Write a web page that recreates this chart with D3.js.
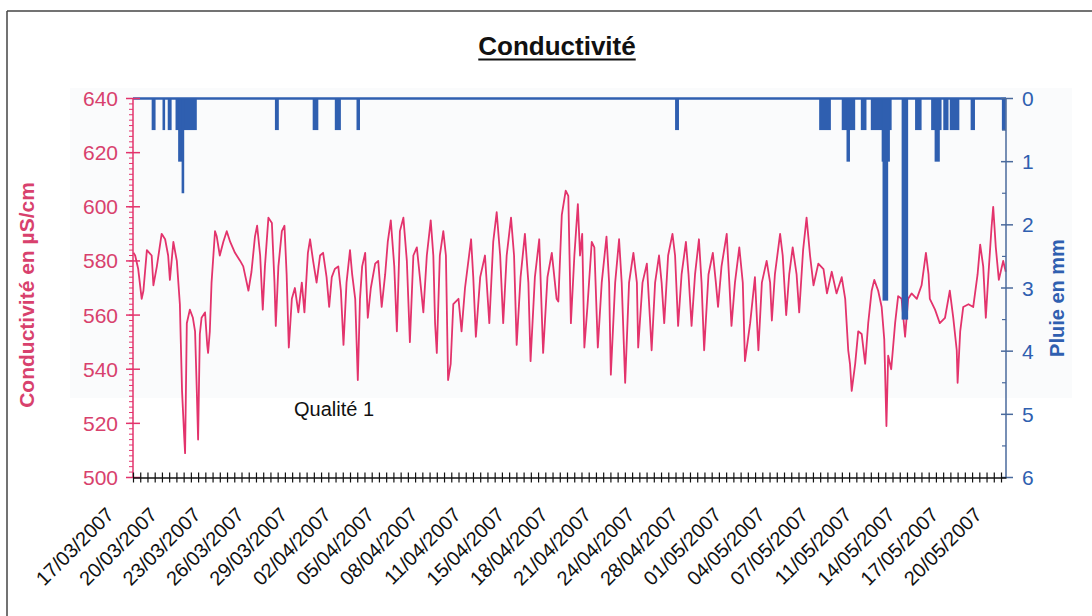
<!DOCTYPE html>
<html><head><meta charset="utf-8">
<script src="https://cdn.jsdelivr.net/npm/d3@7"></script>
<style>html,body{margin:0;padding:0;background:#fff;}svg{display:block;font-family:"Liberation Sans",Arial,sans-serif;}</style>
</head><body><svg id="c" width="1092" height="616"></svg>
<script>
// ---- data ----
const dateLabels = ["17/03/2007","20/03/2007","23/03/2007","26/03/2007","29/03/2007","02/04/2007","05/04/2007","08/04/2007","11/04/2007","15/04/2007","18/04/2007","21/04/2007","24/04/2007","28/04/2007","01/05/2007","04/05/2007","07/05/2007","11/05/2007","14/05/2007","17/05/2007","20/05/2007"];
const condTicks = [500,520,540,560,580,600,620,640];
const rainTicks = [0,1,2,3,4,5,6];
// position along the axis, in date-label steps
const condIdx = [0.01,0.05,0.12,0.20,0.24,0.32,0.43,0.47,0.55,0.66,0.74,0.81,0.85,0.93,1.01,1.08,1.10,1.13,1.18,1.20,1.24,1.31,1.38,1.43,1.47,1.50,1.54,1.58,1.66,1.71,1.73,1.77,1.81,1.89,1.93,2.00,2.08,2.16,2.24,2.35,2.47,2.54,2.66,2.73,2.81,2.86,2.93,2.99,3.04,3.12,
3.20,3.26,3.29,3.35,3.43,3.49,3.54,3.59,3.66,3.73,3.81,3.89,3.95,4.03,4.08,4.15,4.23,4.31,4.38,4.46,4.52,4.58,4.65,4.73,4.79,4.85,4.92,5.00,5.05,5.12,5.18,5.23,5.28,5.35,5.41,5.48,5.58,5.65,5.73,5.81,5.87,5.94,6.02,6.08,6.15,6.23,6.31,6.38,
6.46,6.54,6.61,6.69,6.77,6.86,6.92,6.96,7.00,7.07,7.15,7.21,7.26,7.32,7.38,7.50,7.57,7.65,7.79,7.84,7.90,8.00,8.11,8.21,8.30,8.38,8.46,8.53,8.61,8.71,8.78,8.84,8.93,9.03,9.11,9.16,9.26,9.36,9.45,9.55,9.65,9.76,
9.80,9.88,9.97,10.03,10.09,10.17,10.25,10.30,10.35,10.40,10.47,10.57,10.63,10.71,10.80,10.91,10.97,11.01,11.11,11.20,11.26,11.34,11.43,11.53,11.61,11.64,11.74,11.84,11.91,11.95,12.03,12.12,12.18,12.24,12.33,12.43,12.49,12.56,12.64,12.74,12.80,12.87,12.95,13.04,13.10,13.16,
13.26,13.36,13.43,13.48,13.56,13.68,13.74,13.79,13.87,13.97,14.05,14.10,14.22,14.33,14.41,14.49,14.60,14.68,14.72,14.79,14.91,14.97,15.05,15.12,15.20,15.29,15.35,15.44,15.52,15.60,15.68,15.79,15.91,15.99,16.10,16.21,16.33,16.41,16.48,16.52,
16.56,16.64,16.71,16.79,16.87,16.94,17.02,17.08,17.17,17.25,17.31,17.34,17.36,17.40,17.47,17.56,17.63,17.71,17.79,17.86,17.94,18.06,18.17,18.27,18.33,18.36,18.48,18.59,18.71,18.82,18.90,18.98,19.00,19.06,19.13,19.25,19.36,19.46,19.52,19.59,19.65,19.71,19.78,19.82,19.88,19.95,20.05,20.11];
const condVal = [583,582,577,566,569,584,582,571,578,590,588,582,573,587,580,564,551,532,515,509,557,562,559,554,532,514,553,559,561,549,546,554,572,591,589,582,587,591,587,583,580,578,569,576,589,593,582,562,578,596,
594,572,556,578,591,593,575,548,566,570,561,572,561,583,588,580,572,582,583,574,563,574,577,578,569,549,572,584,575,566,536,566,578,583,559,570,579,580,563,575,587,595,578,554,591,596,580,550,
582,585,574,561,582,595,582,557,546,582,591,582,536,542,564,566,554,570,588,574,552,574,582,557,587,598,582,557,582,596,582,549,574,590,572,543,574,588,546,574,583,566,
565,597,606,604,557,582,601,582,590,548,563,587,585,548,572,589,572,538,572,588,572,535,572,583,572,548,572,579,559,547,572,582,572,557,582,590,582,556,575,587,575,556,575,588,572,547,
575,583,572,563,578,590,572,556,572,585,572,543,557,574,547,572,580,572,558,575,590,582,560,575,585,575,561,584,596,582,571,579,577,568,576,568,574,566,547,542,
532,542,554,553,542,557,569,573,569,563,551,532,519,545,540,557,567,566,552,566,568,566,571,583,575,566,562,557,559,569,559,547,535,554,563,564,563,575,586,578,559,575,592,600,585,573,580,576];
// rain (mm): start / end position in date-label steps
const rainFrom = [0.43,0.68,0.80,0.98,1.04,1.12,3.27,4.14,4.65,5.15,12.49,15.81,16.33,16.44,16.77,17.00,17.25,17.27,17.71,18.02,18.39,18.47,18.67,18.82,19.30,20.02];
const rainTo   = [0.52,0.74,0.89,1.47,1.16,1.18,3.36,4.27,4.79,5.23,12.58,16.08,16.64,16.52,16.90,17.48,17.44,17.40,17.86,18.17,18.63,18.59,18.79,19.04,19.40,20.11];
const rainMm   = [0.5,0.5,0.5,0.5,1.0,1.5,0.5,0.5,0.5,0.5,0.5,0.5,0.5,1.0,0.5,0.5,1.0,3.2,3.5,0.5,0.5,1.0,0.5,0.5,0.5,0.5];

// ---- drawing ----
const pink = "#e3336c", pinkTxt = "#d8416d", blue = "#2f5fb0", blueAxis = "#4a6a9c";
const svg = d3.select("#c");
const x = d3.scaleLinear().domain([0, 20.115]).range([133, 1006]);
const yL = d3.scaleLinear().domain([500, 640]).range([477.5, 98.5]);
const yR = d3.scaleLinear().domain([0, 6]).range([98.5, 477.5]);

// frame
svg.append("line").attr("x1",7).attr("x2",1092).attr("y1",11).attr("y2",11).attr("stroke","#444").attr("stroke-width",1.5);
svg.append("line").attr("x1",7).attr("x2",7).attr("y1",11).attr("y2",616).attr("stroke","#444").attr("stroke-width",1.5);
// faint band
svg.append("rect").attr("x",70).attr("y",88).attr("width",1002).attr("height",310).attr("fill","#fafbfc");

// title
const title = svg.append("text").attr("x",557).attr("y",55).attr("text-anchor","middle")
  .attr("font-size",26).attr("font-weight","bold").attr("fill","#111").text("Conductivité");
const tw = title.node().getComputedTextLength();
svg.append("line").attr("x1",557-tw/2).attr("x2",557+tw/2).attr("y1",59.5).attr("y2",59.5).attr("stroke","#111").attr("stroke-width",2);

// conductivity line
const condData = condIdx.map((d,i)=>({i:d, v:condVal[i]}));
svg.append("path").datum(condData)
  .attr("d", d3.line().x(d=>x(d.i)).y(d=>yL(d.v)))
  .attr("fill","none").attr("stroke",pink).attr("stroke-width",1.8).attr("stroke-linejoin","round");

// rain bars
const rainData = rainFrom.map((d,i)=>({a:d,b:rainTo[i],m:rainMm[i]}));
svg.append("g").selectAll("rect").data(rainData).join("rect")
  .attr("x", d=>x(d.a)).attr("width", d=>Math.max(2.5, x(d.b)-x(d.a)))
  .attr("y", yR(0)).attr("height", d=>yR(d.m)-yR(0))
  .attr("fill", blue);

// top baseline (0 mm)
svg.append("line").attr("x1",x(0)).attr("x2",x.range()[1]).attr("y1",yR(0)).attr("y2",yR(0)).attr("stroke",blue).attr("stroke-width",2.5);

// left axis
const gL = svg.append("g").attr("transform",`translate(${x(0)},0)`);
gL.append("line").attr("y1",yL(500)).attr("y2",yL(640)).attr("stroke",pink).attr("stroke-width",1.5);
gL.selectAll("line.mn").data(d3.range(500,641,2)).join("line").attr("class","mn")
  .attr("x1",-4).attr("x2",0).attr("y1",d=>yL(d)).attr("y2",d=>yL(d)).attr("stroke",pink).attr("stroke-width",1);
gL.selectAll("line.mj").data(condTicks).join("line").attr("class","mj")
  .attr("x1",-7).attr("x2",7).attr("y1",d=>yL(d)).attr("y2",d=>yL(d)).attr("stroke",pink).attr("stroke-width",1.5);
gL.selectAll("text").data(condTicks).join("text")
  .attr("x",-15).attr("y",d=>yL(d)).attr("dy","0.36em").attr("text-anchor","end")
  .attr("font-size",21).attr("fill",pinkTxt).text(d=>d);
svg.append("text").attr("transform","translate(34,295) rotate(-90)").attr("text-anchor","middle")
  .attr("font-size",21).attr("font-weight","bold").attr("fill",pinkTxt).text("Conductivité en µS/cm");

// right axis
const xr = x.range()[1];
const gR = svg.append("g").attr("transform",`translate(${xr},0)`);
gR.append("line").attr("y1",yR(0)).attr("y2",yR(6)).attr("stroke",blueAxis).attr("stroke-width",1.5);
gR.selectAll("line.mn").data(d3.range(0.5,6,1)).join("line").attr("class","mn")
  .attr("x1",-4).attr("x2",0).attr("y1",d=>yR(d)).attr("y2",d=>yR(d)).attr("stroke",blueAxis).attr("stroke-width",1.2);
gR.selectAll("line.mj").data(rainTicks).join("line").attr("class","mj")
  .attr("x1",-5).attr("x2",7).attr("y1",d=>yR(d)).attr("y2",d=>yR(d)).attr("stroke",blueAxis).attr("stroke-width",1.5);
gR.selectAll("text").data(rainTicks).join("text")
  .attr("x",16).attr("y",d=>yR(d)).attr("dy","0.36em").attr("text-anchor","start")
  .attr("font-size",21).attr("fill",blue).text(d=>d);
svg.append("text").attr("transform","translate(1064,298) rotate(-90)").attr("text-anchor","middle")
  .attr("font-size",20).attr("font-weight","bold").attr("fill",blue).text("Pluie en mm");

// x axis
const gX = svg.append("g").attr("transform",`translate(0,${yL(500)})`);
const xAxis = d3.axisBottom(x).tickValues(d3.range(0, 20.12, 1/6)).tickSize(0).tickFormat("");
gX.call(xAxis);
gX.select(".domain").attr("stroke","#111").attr("stroke-width",1.5);
gX.selectAll(".tick line").attr("y1",-5).attr("y2",5).attr("stroke","#111").attr("stroke-width",1.2);
gX.selectAll("text.lbl").data(dateLabels).join("text").attr("class","lbl")
  .attr("transform",(d,i)=>`translate(${x(i)-18},38.5) rotate(-45)`)
  .attr("text-anchor","end").attr("font-size",20).attr("fill","#111").text(d=>d);

// zone label
svg.append("text").attr("x",294).attr("y",416).attr("font-size",20).attr("fill","#111").text("Qualité 1");
</script></body></html>
